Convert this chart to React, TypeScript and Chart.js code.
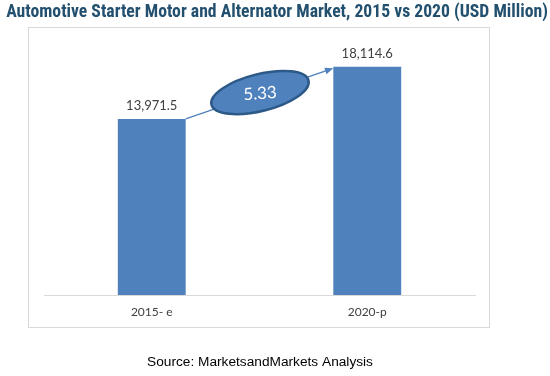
import React, { useEffect, useRef } from "react";
import { Chart, registerables } from "chart.js";

Chart.register(...registerables);

const TITLE = "Automotive Starter Motor and Alternator Market, 2015 vs 2020 (USD Million)";
const SOURCE = "Source: MarketsandMarkets Analysis";
const categories = ["2015- e", "2020-p"];
const marketValues = [13971.5, 18114.6];
const valueLabels = ["13,971.5", "18,114.6"];
const cagrText = "5.33";
const yMax = 20000;

const BAR = "#4F81BD";
const LABEL_FONT = "Lato, 'Open Sans', sans-serif";

function fitSize(ctx: CanvasRenderingContext2D, text: string, weight: string, family: string, target: number) {
  ctx.font = `${weight} 20px ${family}`;
  const w = ctx.measureText(text).width;
  return (20 * target) / w;
}

const decor = {
  id: "decor",
  beforeDraw(chart: any) {
    const ctx = chart.ctx as CanvasRenderingContext2D;
    ctx.save();
    ctx.fillStyle = "#ffffff";
    ctx.fillRect(0, 0, chart.width, chart.height);
    ctx.strokeStyle = "#d9d9d9";
    ctx.lineWidth = 1;
    ctx.strokeRect(28.5, 27.5, 461, 300);
    ctx.restore();
  },
  afterDatasetsDraw(chart: any) {
    const ctx = chart.ctx as CanvasRenderingContext2D;
    const meta = chart.getDatasetMeta(0);
    const bars = meta.data;
    ctx.save();
    // value labels
    ctx.fillStyle = "#404040";
    ctx.font = `13px ${LABEL_FONT}`;
    ctx.textAlign = "center";
    ctx.textBaseline = "middle";
    bars.forEach((b: any, i: number) => {
      ctx.fillText(valueLabels[i], b.x, b.y - 13);
    });
    // arrow from bar1 top-right to bar2 top-left
    const b1 = bars[0];
    const b2 = bars[1];
    const x1 = b1.x + b1.width / 2;
    const y1 = b1.y;
    const x2 = b2.x - b2.width / 2;
    const y2 = b2.y + 1.5;
    const ang = Math.atan2(y2 - y1, x2 - x1);
    const head = 9;
    ctx.strokeStyle = BAR;
    ctx.fillStyle = BAR;
    ctx.lineWidth = 1.3;
    ctx.beginPath();
    ctx.moveTo(x1, y1);
    ctx.lineTo(x2 - Math.cos(ang) * head * 0.8, y2 - Math.sin(ang) * head * 0.8);
    ctx.stroke();
    ctx.beginPath();
    ctx.moveTo(x2, y2);
    ctx.lineTo(x2 - Math.cos(ang - 0.38) * head, y2 - Math.sin(ang - 0.38) * head);
    ctx.lineTo(x2 - Math.cos(ang + 0.38) * head, y2 - Math.sin(ang + 0.38) * head);
    ctx.closePath();
    ctx.fill();
    // ellipse
    const cx = (x1 + x2) / 2 + 0.5;
    const cy = (y1 + y2) / 2 - 1;
    ctx.beginPath();
    ctx.ellipse(cx, cy, 50, 18.5, (-14 * Math.PI) / 180, 0, Math.PI * 2);
    ctx.fillStyle = BAR;
    ctx.fill();
    ctx.lineWidth = 2.5;
    ctx.strokeStyle = "#2C5987";
    ctx.stroke();
    ctx.fillStyle = "#ffffff";
    ctx.font = `17px ${LABEL_FONT}`;
    ctx.translate(cx, cy + 1);
    ctx.rotate((-4 * Math.PI) / 180);
    ctx.fillText(cagrText, 0, 0);
    ctx.restore();
  },
  afterDraw(chart: any) {
    const ctx = chart.ctx as CanvasRenderingContext2D;
    ctx.save();
    const tFam = "'Liberation Sans Narrow', 'Roboto Condensed', 'DejaVu Sans Condensed', sans-serif";
    const ts = fitSize(ctx, TITLE, "bold", tFam, 542);
    ctx.font = `bold ${ts}px ${tFam}`;
    ctx.fillStyle = "#22506E";
    ctx.textAlign = "center";
    ctx.textBaseline = "middle";
    ctx.fillText(TITLE, 277, 12.5);
    const sFam = "'Liberation Sans', Arial, sans-serif";
    const ss = fitSize(ctx, SOURCE, "normal", sFam, 226);
    ctx.font = `${ss}px ${sFam}`;
    ctx.fillStyle = "#000000";
    ctx.fillText(SOURCE, 260, 362);
    ctx.restore();
  },
};

export default function App() {
  const ref = useRef<HTMLCanvasElement>(null);
  useEffect(() => {
    if (!ref.current) return;
    const chart = new Chart(ref.current, {
      type: "bar",
      data: {
        labels: categories,
        datasets: [
          {
            data: marketValues,
            backgroundColor: BAR,
            barPercentage: 0.315,
            categoryPercentage: 1,
          },
        ],
      },
      options: {
        responsive: false,
        animation: false,
        devicePixelRatio: 1,
        layout: { padding: { left: 44, right: 75, top: 43, bottom: 46.6 } },
        plugins: { legend: { display: false }, tooltip: { enabled: false }, title: { display: false } },
        scales: {
          x: {
            grid: { display: false, drawTicks: false },
            border: { display: true, color: "#d9d9d9", width: 1 },
            ticks: { color: "#404040", font: { family: "Lato, 'Open Sans', sans-serif", size: 12 }, padding: 10 },
          },
          y: {
            display: false,
            min: 0,
            max: yMax,
          },
        },
      },
      plugins: [decor],
    });
    return () => chart.destroy();
  }, []);
  return (
    <div style={{ position: "fixed", left: 0, top: 0, width: 550, height: 376, background: "#fff" }}>
      <canvas ref={ref} width={550} height={376} />
    </div>
  );
}
